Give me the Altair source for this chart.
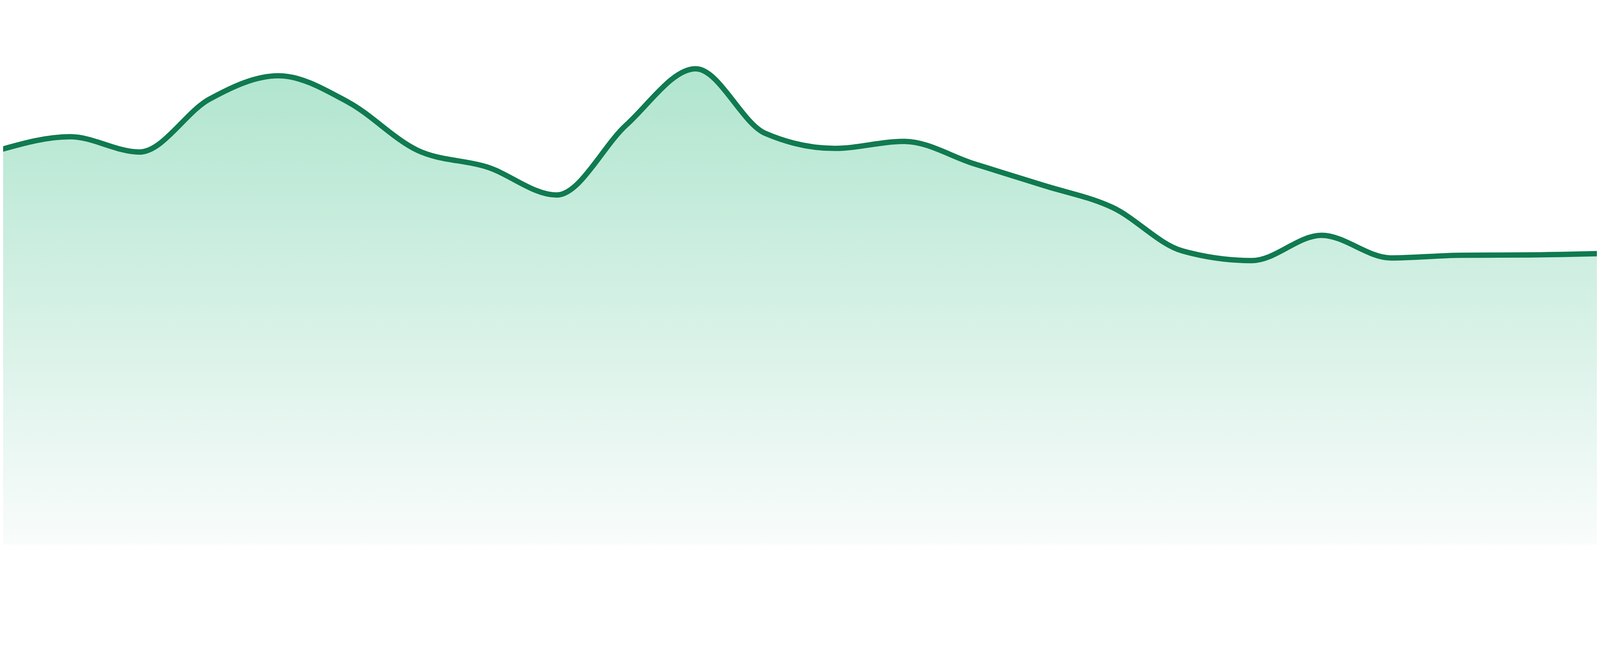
import pandas as pd
import altair as alt

# 24 evenly spaced points
step = list(range(24))
level = [1186, 1225, 1179, 1337, 1408, 1329, 1184, 1134, 1050, 1260, 1429, 1235,
         1190, 1211, 1144, 1079, 1012, 882, 853, 929, 861, 869, 870, 874]

df = pd.DataFrame({'step': step, 'level': level})

# no axes: the area runs edge to edge
x_enc = alt.X('step:Q', axis=None, scale=alt.Scale(domain=[0.0383, 22.961], nice=False, zero=False))
y_enc = alt.Y('level:Q', axis=None, scale=alt.Scale(domain=[0, 1497], nice=False))

area = alt.Chart(df).mark_area(
    interpolate='monotone', clip=True,
    color=alt.Gradient(
        gradient='linear',
        stops=[alt.GradientStop(color='#b0e5cf', offset=0),
               alt.GradientStop(color='#f9fcfb', offset=1)],
        x1=0, x2=0, y1=0, y2=1,
    ),
).encode(x=x_enc, y=y_enc)

line = alt.Chart(df).mark_line(
    interpolate='monotone', color='#107a50', strokeWidth=16, clip=True
).encode(x=x_enc, y=y_enc)

chart = (area + line).properties(
    width=4784, height=1497, padding=0,
    autosize=alt.AutoSizeParams(type='none'),
).configure_view(stroke=None)

chart.save('out.html', embed_options={'renderer': 'svg', 'actions': False})
